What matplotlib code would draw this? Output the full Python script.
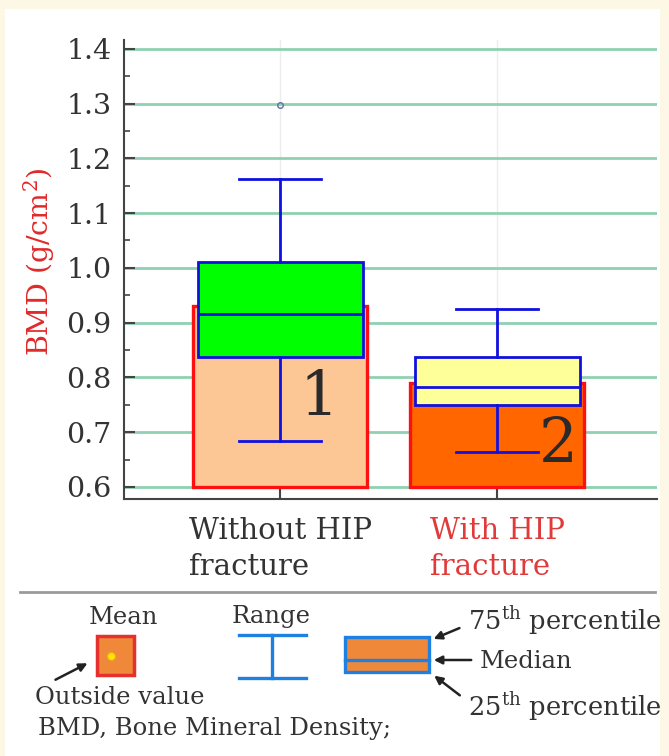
import matplotlib
matplotlib.use("Agg")
import matplotlib.pyplot as plt
from matplotlib.patches import Rectangle
import numpy as np

plt.rcParams['font.family'] = ['DejaVu Serif']
plt.rcParams['mathtext.fontset'] = 'dejavuserif'

# BMD summary per group
groups = ["Without HIP\nfracture", "With HIP\nfracture"]
group_colors = ["#333333", "#e03a3a"]
means = [0.931, 0.790]
q1 = [0.838, 0.749]
medians = [0.915, 0.782]
q3 = [1.011, 0.837]
whisk_lo = [0.683, 0.664]
whisk_hi = [1.162, 0.925]
outliers = [[1.297], []]
group_numbers = ["1", "2"]

bar_colors = ["#fdc795", "#ff6600"]
box_colors = ["#00ff00", "#ffff99"]

W, H = 669, 756
fig = plt.figure(figsize=(W / 100, H / 100), dpi=100, facecolor="#fdf8e6")

# pixel-space overlay for the white panel and the key underneath
bg = fig.add_axes([0, 0, 1, 1], zorder=0)
bg.set_xlim(0, W)
bg.set_ylim(H, 0)
bg.axis("off")
bg.add_patch(Rectangle((5, 9), 655, 760, fc="white", ec="none"))

ax = fig.add_axes([124 / W, 1 - 499 / H, 533 / W, 459 / H], zorder=1)
pos = np.array([1, 2])

ax.set_xlim(0.281, 2.737)
ax.set_ylim(0.578, 1.416)

# horizontal and faint vertical grid
ax.set_yticks(np.arange(0.6, 1.41, 0.1))
ax.set_yticks(np.arange(0.65, 1.4, 0.1), minor=True)
ax.grid(axis="y", which="major", color="#8fd0b2", lw=2, zorder=0)
for p in pos:
    ax.axvline(p, color="#ececec", lw=1, zorder=0)
ax.set_axisbelow(True)

# mean bars from a 0.6 baseline
base = 0.6
ax.bar(pos, np.array(means) - base, bottom=base, width=0.8,
       color=bar_colors, edgecolor="#ff1010", linewidth=2.4, zorder=2)

stats = []
for i in range(len(groups)):
    stats.append(dict(med=medians[i], q1=q1[i], q3=q3[i],
                      whislo=whisk_lo[i], whishi=whisk_hi[i],
                      fliers=outliers[i]))

bp = ax.bxp(stats, positions=pos, widths=0.76, capwidths=0.38,
            patch_artist=True, manage_ticks=False, zorder=3,
            boxprops=dict(edgecolor="#1010e0", linewidth=2),
            whiskerprops=dict(color="#1010e0", linewidth=2),
            capprops=dict(color="#1010e0", linewidth=2),
            medianprops=dict(color="#1010e0", linewidth=2),
            flierprops=dict(marker="o", markersize=4, markerfacecolor="none",
                            markeredgecolor="#6070a0", markeredgewidth=1))
for patch, c in zip(bp["boxes"], box_colors):
    patch.set_facecolor(c)

# group numbers inside the bars
ax.text(1.18, 0.765, group_numbers[0], fontsize=44, color="#2a2a2a",
        ha="center", va="center", zorder=4)
ax.text(2.28, 0.676, group_numbers[1], fontsize=44, color="#2a2a2a",
        ha="center", va="center", zorder=4)

for side in ["top", "right"]:
    ax.spines[side].set_visible(False)
for side in ["left", "bottom"]:
    ax.spines[side].set_color("#444444")
    ax.spines[side].set_linewidth(1.5)

ax.set_yticklabels([f"{v:.1f}" for v in np.arange(0.6, 1.41, 0.1)])
ax.tick_params(axis="y", which="major", direction="in", length=8, width=1.5,
               colors="#444444", labelsize=20.5, pad=9, labelcolor="#333333")
ax.tick_params(axis="y", which="minor", direction="in", length=4, width=1.2,
               colors="#444444")
ax.set_xticks(pos)
ax.set_xticklabels(groups, fontsize=21, linespacing=1.35, multialignment="left")
ax.tick_params(axis="x", direction="in", length=8, width=1.5,
               colors="#444444", pad=13)
for lbl, c in zip(ax.get_xticklabels(), group_colors):
    lbl.set_color(c)

fig.text(39 / W, 1 - 262 / H, "BMD (g/cm$^2$)", rotation=90, color="#e02a2a",
         fontsize=20.5, ha="center", va="center")

# ---- key ----
bg.plot([20, 655], [592, 592], color="#9a9a9a", lw=2)
key_orange = "#f0883a"
key_blue = "#1e80e0"
tsize = 17.5

bg.text(123, 617, "Mean", fontsize=tsize, ha="center", va="center", color="#333333")
bg.add_patch(Rectangle((97, 636), 37, 39, fc=key_orange, ec="#e53030", lw=2.5))
bg.plot(111, 656, "o", ms=6, mfc="#ffe600", mec="#f0a020", mew=1)
bg.annotate("", xy=(90, 662), xytext=(53, 681),
            arrowprops=dict(arrowstyle="-|>", color="#222222", lw=1.8,
                            mutation_scale=12))
bg.text(35, 697, "Outside value", fontsize=tsize, ha="left", va="center", color="#333333")
bg.text(38, 729, "BMD, Bone Mineral Density;", fontsize=tsize, ha="left",
        va="center", color="#333333")

bg.text(271, 616, "Range", fontsize=tsize, ha="center", va="center", color="#333333")
bg.plot([239, 306], [635, 635], color=key_blue, lw=2.4)
bg.plot([239, 306], [678, 678], color=key_blue, lw=2.4)
bg.plot([272, 272], [635, 678], color=key_blue, lw=2.4)

bg.add_patch(Rectangle((345, 637), 84, 35, fc=key_orange, ec=key_blue, lw=2.4))
bg.plot([345, 429], [660, 660], color=key_blue, lw=2.4)

arrow = dict(arrowstyle="-|>", color="#222222", lw=1.8, mutation_scale=12)
bg.annotate("", xy=(431, 640), xytext=(462, 627), arrowprops=arrow)
bg.annotate("", xy=(431, 660), xytext=(474, 660), arrowprops=arrow)
bg.annotate("", xy=(432, 674), xytext=(462, 697), arrowprops=arrow)
bg.text(468, 621, r"75$^{\mathrm{th}}$ percentile", fontsize=18.5, ha="left",
        va="center", color="#333333")
bg.text(480, 661, "Median", fontsize=tsize, ha="left", va="center", color="#333333")
bg.text(468, 707, r"25$^{\mathrm{th}}$ percentile", fontsize=18.5, ha="left",
        va="center", color="#333333")

fig.savefig("out.png", dpi=100, facecolor=fig.get_facecolor())
